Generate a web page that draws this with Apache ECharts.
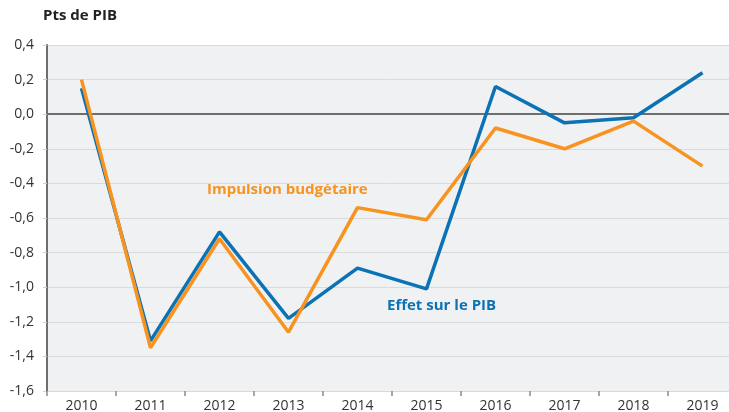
<!DOCTYPE html>
<html>
<head>
<meta charset="utf-8">
<script src="https://cdn.jsdelivr.net/npm/echarts@6/dist/echarts.min.js"></script>
<style>
  html, body { margin: 0; padding: 0; background: #ffffff; }
  #chart { width: 729px; height: 412px; }
</style>
</head>
<body>
<div id="chart"></div>
<script>
// Années
const years = ['2010', '2011', '2012', '2013', '2014', '2015', '2016', '2017', '2018', '2019'];
// Effet sur le PIB (pts de PIB)
const effetPIB = [0.15, -1.31, -0.68, -1.18, -0.89, -1.01, 0.16, -0.05, -0.02, 0.24];
// Impulsion budgétaire (pts de PIB)
const impulsion = [0.20, -1.35, -0.72, -1.26, -0.54, -0.61, -0.08, -0.20, -0.04, -0.30];

const BLUE = '#0b72b5';
const ORANGE = '#f7931e';
const FONT = '"Open Sans", "DejaVu Sans", sans-serif';

const chart = echarts.init(document.getElementById('chart'), null, { renderer: 'canvas' });

chart.setOption({
  animation: false,
  textStyle: { fontFamily: FONT },
  grid: {
    left: 47,
    top: 45,
    width: 690,
    height: 346,
    outerBoundsMode: 'none',
    containLabel: false,
    show: true,
    backgroundColor: '#f0f1f3',
    borderWidth: 0
  },
  xAxis: {
    type: 'category',
    data: years,
    boundaryGap: true,
    axisLine: { show: true, onZero: false, lineStyle: { color: '#d9d9d9', width: 1 } },
    axisTick: { show: true, length: 5, lineStyle: { color: '#8a8a8a', width: 1.5 } },
    axisLabel: { color: '#333333', fontSize: 14, margin: 8, fontFamily: FONT },
    splitLine: { show: false }
  },
  yAxis: {
    type: 'value',
    min: -1.6,
    max: 0.4,
    interval: 0.2,
    axisLine: { show: true, lineStyle: { color: '#6e6e6e', width: 2 } },
    axisTick: { show: true, length: 4, lineStyle: { color: '#cfcfcf', width: 1 } },
    axisLabel: {
      color: '#333333',
      fontSize: 14,
      margin: 13,
      fontFamily: FONT,
      formatter: v => v.toFixed(1).replace('.', ',').replace('-0,0', '0,0')
    },
    splitLine: { show: true, lineStyle: { color: '#d9dadc', width: 1 } }
  },
  series: [
    {
      name: 'Effet sur le PIB',
      type: 'line',
      data: effetPIB,
      symbol: 'none',
      lineStyle: { color: BLUE, width: 3.5 },
      z: 3,
      markLine: {
        silent: true,
        symbol: 'none',
        label: { show: false },
        lineStyle: { color: '#6e6e6e', width: 2, type: 'solid' },
        data: [{ yAxis: 0 }],
        z: 1
      }
    },
    {
      name: 'Impulsion budgétaire',
      type: 'line',
      data: impulsion,
      symbol: 'none',
      lineStyle: { color: ORANGE, width: 3.5 },
      z: 4
    }
  ],
  graphic: [
    {
      type: 'text',
      left: 43,
      top: 8,
      style: { text: 'Pts de PIB', fill: '#222222', font: 'bold 15px ' + FONT }
    },
    {
      type: 'text',
      left: 207,
      top: 182,
      style: { text: 'Impulsion budgétaire', fill: ORANGE, font: 'bold 15px ' + FONT }
    },
    {
      type: 'text',
      left: 387,
      top: 298,
      style: { text: 'Effet sur le PIB', fill: BLUE, font: 'bold 15px ' + FONT }
    }
  ]
});
</script>
</body>
</html>
